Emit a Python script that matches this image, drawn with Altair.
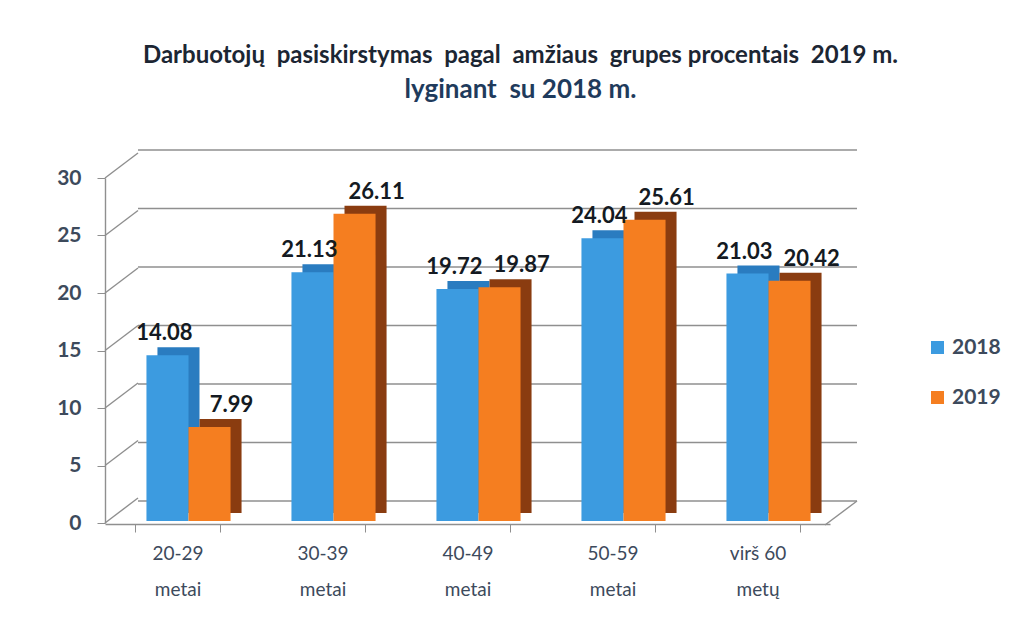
import altair as alt
import pandas as pd

categories = ["20-29|metai", "30-39|metai", "40-49|metai", "50-59|metai", "virš 60|metų"]
years = ["2018", "2019"]
values_2018 = [14.08, 21.13, 19.72, 24.04, 21.03]
values_2019 = [7.99, 26.11, 19.87, 25.61, 20.42]
y_ticks = [0, 5, 10, 15, 20, 25, 30]

rows = []
for c, a, b in zip(categories, values_2018, values_2019):
    rows.append({"cat": c, "year": "2018", "value": a})
    rows.append({"cat": c, "year": "2019", "value": b})
df = pd.DataFrame(rows)
ticks_df = pd.DataFrame({"tick": y_ticks})
floor_df = pd.DataFrame({"tick": [0]})

W, H = 725, 353
font = "Lato"
axis_color = "#3d4a5c"
line_color = "#8f8f8f"
NB = "\u00a0"


def xenc(rng=None, axis=None):
    if rng is not None:
        sc = alt.Scale(paddingInner=0.42, paddingOuter=0.21, range=rng)
    else:
        sc = alt.Scale(paddingInner=0.42, paddingOuter=0.21)
    return alt.X("cat:N", sort=categories, title=None, scale=sc, axis=axis)


xo = alt.XOffset("year:N", sort=years, scale=alt.Scale(domain=years))
y_bar = alt.Y("value:Q", title=None, scale=alt.Scale(domain=[0, 30]), axis=None)
back_scale = alt.Scale(domain=[0, 30], range=[H - 20, -18])
front_scale = alt.Scale(domain=[0, 30], range=[H + 2, 10])

# back-wall gridlines (3D look: shifted up/right)
grid = alt.Chart(ticks_df).mark_rule(color=line_color, strokeWidth=1.4).encode(
    y=alt.Y("tick:Q", scale=back_scale, axis=None),
    x=alt.value(33), x2=alt.value(752),
)

# left-wall diagonals from the front axis ticks to the back wall
diag = alt.Chart(ticks_df).mark_rule(color=line_color, strokeWidth=1.4, y2Offset=-25).encode(
    y=alt.Y("tick:Q", scale=front_scale, axis=None),
    y2="tick:Q",
    x=alt.value(0), x2=alt.value(33),
)

# right floor diagonal
floor = alt.Chart(floor_df).mark_rule(color=line_color, strokeWidth=1.4, y2Offset=24).encode(
    y=alt.Y("tick:Q", scale=back_scale, axis=None),
    y2="tick:Q",
    x=alt.value(752), x2=alt.value(720),
)

# axes (front edge)
axis_layer = alt.Chart(df).mark_bar(opacity=0).encode(
    x=xenc(axis=alt.Axis(labelExpr="isValid(datum.value) ? split(datum.value, '|') : ''",
                         labelAngle=0,
                         labelFontSize=19, labelColor=axis_color, labelFont=font,
                         labelPadding=12, labelLineHeight=36, offset=3,
                         domainColor=line_color, domainWidth=1.4,
                         tickColor=line_color, tickSize=8, tickBand="extent",
                         grid=False)),
    xOffset=xo,
    y=alt.Y("value:Q", title=None, scale=front_scale,
            axis=alt.Axis(values=y_ticks, labelFontSize=21, labelFontWeight="bold",
                          labelColor=axis_color, labelFont=font, labelPadding=16,
                          domainColor=line_color, domainWidth=1.4,
                          tickColor=line_color, tickSize=8, grid=False)),
)

side = alt.Chart(df).mark_bar(yOffset=-8).encode(
    x=xenc(rng=[22, W + 22]), xOffset=xo, y=y_bar,
    color=alt.Color("year:N", scale=alt.Scale(domain=years, range=["#2a7cc0", "#8a3c10"]),
                    legend=None),
)

front = alt.Chart(df).mark_bar().encode(
    x=xenc(rng=[11, W + 11]), xOffset=xo, y=y_bar,
    color=alt.Color("year:N", scale=alt.Scale(domain=years, range=["#3c9be0", "#f57e20"]),
                    legend=alt.Legend(title=None, orient="none", legendX=822, legendY=169,
                                      symbolType="square", symbolSize=170,
                                      labelFontSize=21, labelColor=axis_color,
                                      labelFont=font, labelFontWeight="bold",
                                      rowPadding=28, symbolStrokeWidth=0)),
)

lab_2018 = alt.Chart(df).transform_filter("datum.year == '2018'").mark_text(
    dy=-22, dx=-3, fontSize=22, fontWeight="bold", font=font, color="#141a22").encode(
    x=xenc(rng=[11, W + 11]), xOffset=xo, y=y_bar,
    text=alt.Text("value:Q", format=".2f"),
)
lab_2019 = alt.Chart(df).transform_filter("datum.year == '2019'").mark_text(
    dy=-22, dx=22, fontSize=22, fontWeight="bold", font=font, color="#141a22").encode(
    x=xenc(rng=[11, W + 11]), xOffset=xo, y=y_bar,
    text=alt.Text("value:Q", format=".2f"),
)

title_text = (f"Darbuotojų {NB}pasiskirstymas {NB}pagal {NB}amžiaus {NB}grupes procentais "
              f"{NB}2019 m.")
subtitle_text = f"lyginant {NB}su 2018 m."

chart = alt.layer(grid, diag, floor, axis_layer, side, front, lab_2018, lab_2019).resolve_scale(
    x="independent", y="independent", xOffset="independent", color="independent"
).properties(
    width=W, height=H,
    padding={"left": 97, "top": 160, "right": 185, "bottom": 98},
    autosize=alt.AutoSizeParams(type="none"),
    background="white",
    title=alt.TitleParams(
        text=title_text,
        subtitle=subtitle_text,
        anchor="middle", frame="group", dx=53, offset=46,
        font=font, fontSize=24, fontWeight="bold", color="#1c2633",
        subtitleFont=font, subtitleFontSize=26, subtitleFontWeight="bold",
        subtitleColor="#1f3b5c", subtitlePadding=9,
    ),
).configure_view(stroke=None)

chart.save("out.html", embed_options={"renderer": "svg", "actions": False})
